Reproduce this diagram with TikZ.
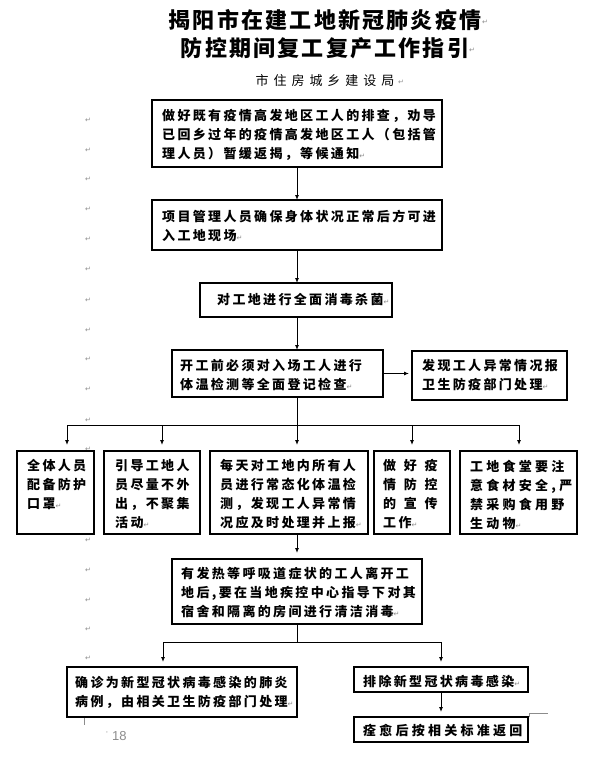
\documentclass[tikz,border=0pt]{standalone}
\usepackage{fontspec}
\setmainfont{Noto Sans CJK SC}
\newfontfamily\bodyf{Noto Sans CJK SC}[LetterSpace=18]
\newfontfamily\wideE{Noto Sans CJK SC}[LetterSpace=25]
\newfontfamily\titlef{Noto Sans CJK SC}[LetterSpace=10]
\newfontfamily\subf{Noto Sans CJK SC}[LetterSpace=38]
\newfontfamily\retf{DejaVu Sans}
\newfontfamily\numf{Liberation Sans}
\usetikzlibrary{arrows.meta}
\definecolor{retgray}{RGB}{140,140,140}
\newcommand\rmk{{\retf\mdseries\fontsize{7}{7}\selectfont\color{retgray}↵}}
\tikzset{
  box/.style={draw=black, line width=1.2pt, fill=white, inner sep=0pt, outer sep=0pt},
  txt/.style={inner sep=0pt, anchor=north west, align=left, font=\bodyf\bfseries\fontsize{13}{19}\selectfont},
  txtE/.style={inner sep=0pt, anchor=north west, align=left, font=\wideE\bfseries\fontsize{13}{19}\selectfont},
  conn/.style={draw=black, line width=0.9pt},
  arr/.style={conn, -{Latex[length=5pt,width=4pt]}},
  pmk/.style={inner sep=0pt, font=\retf\fontsize{7}{7}\selectfont, text=retgray}
}
\begin{document}
\begin{tikzpicture}[x=1pt,y=-1pt]
\useasboundingbox[fill=white] (0,0) rectangle (592,760);

% title
\node[inner sep=0pt, font=\titlef\bfseries\fontsize{22}{24}\selectfont] (title1) at (325,20) {揭阳市在建工地新冠肺炎疫情};
\node[inner sep=0pt, font=\titlef\bfseries\fontsize{22}{24}\selectfont] (title2) at (325,48.3) {防控期间复工复产工作指引};
\node[inner sep=0pt, font=\subf\fontsize{13}{15}\selectfont] (sub) at (325,80.7) {市住房城乡建设局};
\node[pmk] (rt1) at (485,22) {↵};
\node[pmk] (rt2) at (472,50) {↵};
\node[pmk] (rs) at (401,82) {↵};

% left margin paragraph marks
\foreach \yy [count=\i] in {120,150,179,209,239,269,300,330,359,389,420,449,540,570,600,629,658}
  \node[pmk] (lm\i) at (88,\yy) {↵};

% boxes
\node[box, minimum width=290pt, minimum height=67pt] (b1) at (297,133.5) {};
\node[box, minimum width=290pt, minimum height=50pt] (b2) at (297,225) {};
\node[box, minimum width=192pt, minimum height=34pt] (b3) at (296,300) {};
\node[box, minimum width=211pt, minimum height=47pt] (b4) at (277.5,373.5) {};
\node[box, minimum width=155pt, minimum height=49pt] (b5) at (489.5,375.5) {};
\node[box, minimum width=77pt, minimum height=83pt] (bA) at (55.5,492.5) {};
\node[box, minimum width=96pt, minimum height=83pt] (bB) at (152,492.5) {};
\node[box, minimum width=158pt, minimum height=83pt] (bC) at (289,492.5) {};
\node[box, minimum width=76pt, minimum height=83pt] (bD) at (412,492.5) {};
\node[box, minimum width=117pt, minimum height=83pt] (bE) at (518.5,492.5) {};
\node[box, minimum width=250pt, minimum height=65pt] (bF) at (297,591.5) {};
\node[box, minimum width=230pt, minimum height=50pt] (bG) at (182,692) {};
\node[box, minimum width=174pt, minimum height=25pt] (bH) at (441,679.5) {};
\node[box, minimum width=174pt, minimum height=25pt] (bI) at (441,729.5) {};

% texts
\node[txt] (t1) at (162,109) {做好既有疫情高发地区工人的排查，劝导\\已回乡过年的疫情高发地区工人（包括管\\理人员）暂缓返揭，等候通知\rmk};
\node[txt] (t2) at (162,210) {项目管理人员确保身体状况正常后方可进\\入工地现场\rmk};
\node[txt] (t3) at (217,293.5) {对工地进行全面消毒杀菌\rmk};
\node[txt] (t4) at (180,359.5) {开工前必须对入场工人进行\\体温检测等全面登记检查\rmk};
\node[txt] (t5) at (422,359) {发现工人异常情况报\\卫生防疫部门处理\rmk};
\node[txt] (tA) at (27,459.5) {全体人员\\配备防护\\口罩\rmk};
\node[txt] (tB) at (115,459.5) {引导工地人\\员尽量不外\\出，不聚集\\活动\rmk};
\node[txt] (tC) at (220,459.5) {每天对工地内所有人\\员进行常态化体温检\\测，发现工人异常情\\况应及时处理并上报\rmk};
\node[txt] (tD) at (383,459.5) {做\hspace{7.7pt}好\hspace{7.7pt}疫\\情\hspace{7.7pt}防\hspace{7.7pt}控\\的\hspace{7.7pt}宣\hspace{7.7pt}传\\工作\rmk};
\node[txtE] (tE) at (470,459.5) {工地食堂要注\\意食材安全,严\\禁采购食用野\\生动物\rmk};
\node[txt] (tF) at (181,567.5) {有发热等呼吸道症状的工人离开工\\地后,要在当地疾控中心指导下对其\\宿舍和隔离的房间进行清洁消毒\rmk};
\node[txt] (tG) at (75,676) {确诊为新型冠状病毒感染的肺炎\\病例，由相关卫生防疫部门处理\rmk};
\node[txt] (tH) at (363,675) {排除新型冠状病毒感染\rmk};
\node[txtE] (tI) at (363,724) {痊愈后按相关标准返回};

% junctions
\coordinate (j1) at (297,425);
\coordinate (jA) at (67,425);
\coordinate (jB) at (162,425);
\coordinate (jD) at (412,425);
\coordinate (jE) at (519,425);
\coordinate (j2) at (297,642);
\coordinate (jG) at (163,642);
\coordinate (jH) at (441,642);

% connectors
\draw[arr] (b1.south) -- (b2.north);
\draw[arr] (b2.south) -- (b2.south |- b3.north);
\draw[arr] (b2.south |- b3.south) -- (b2.south |- b4.north);
\draw[arr, shorten >=3pt] (b4.east) -- (b4.east -| b5.west);
\draw[conn] (b4.south -| j1) -- (j1);
\draw[conn] (jA) -- (jE);
\draw[arr, shorten >=6pt] (jA) -- (jA |- bA.north);
\draw[arr, shorten >=6pt] (jB) -- (jB |- bB.north);
\draw[arr, shorten >=6pt] (j1) -- (j1 |- bC.north);
\draw[arr, shorten >=6pt] (jD) -- (jD |- bD.north);
\draw[arr, shorten >=6pt] (jE) -- (jE |- bE.north);
\draw[arr, shorten >=6pt] (bC.south -| j1) -- (j1 |- bF.north);
\draw[conn] (bF.south) -- (j2);
\draw[conn] (jG) -- (jH);
\draw[arr, shorten >=5pt] (jG) -- (jG |- bG.north);
\draw[arr, shorten >=5pt] (jH) -- (bH.north);
\draw[arr, shorten >=5pt] (bH.south) -- (bI.north);

% page furniture
\coordinate (pc1) at (84,718);
\coordinate (pc2) at (84,725);
\draw[retgray, line width=0.8pt] (pc1) -- (pc2);
\coordinate (pr1) at (529,717);
\coordinate (pr2) at (529,713);
\coordinate (pr3) at (548,713);
\draw[retgray, line width=0.8pt] (pr1) -- (pr2) -- (pr3);
\node[inner sep=0pt, font=\numf\fontsize{7}{7}\selectfont, text=retgray] (pdot) at (107,734) {'};
\node[inner sep=0pt, anchor=west, font=\numf\fontsize{13}{13}\selectfont, text=retgray] (pnum) at (112,736) {18};
\end{tikzpicture}
\end{document}
